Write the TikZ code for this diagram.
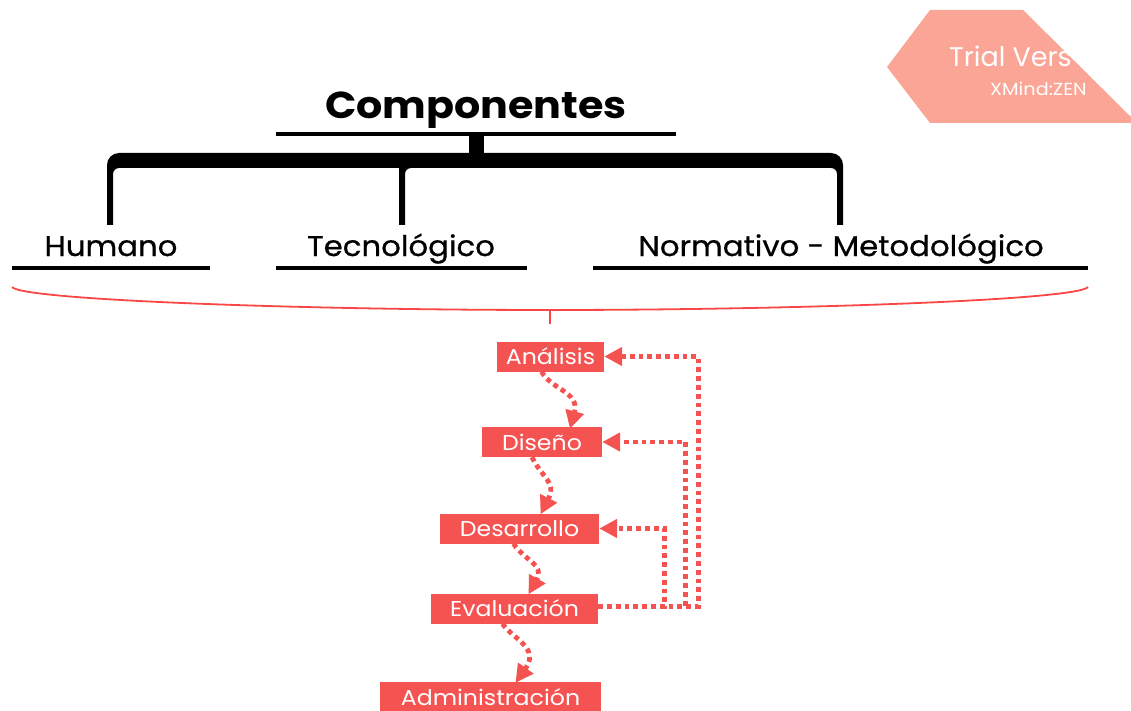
\documentclass[tikz,border=0pt]{standalone}
\usepackage{fontspec}
\setmainfont{Poppins}
\newfontfamily\widefont[FakeStretch=1.1]{Poppins}
\newfontfamily\midfont[FakeStretch=1.08,FakeBold=0.7]{Poppins}
\usetikzlibrary{arrows.meta}
\definecolor{boxred}{RGB}{245,82,82}
\definecolor{bracered}{RGB}{250,70,70}
\definecolor{wmpink}{RGB}{250,165,150}
\tikzset{
  titletxt/.style={inner sep=0pt, font=\widefont\fontsize{37.5}{40}\selectfont\bfseries},
  comptxt/.style={inner sep=0pt, font=\midfont\fontsize{28.5}{32}\selectfont},
  stepbox/.style={fill=boxred, text=white, inner sep=0pt, minimum height=30pt, font=\widefont\fontsize{21.5}{24}\selectfont},
  dotarr/.style={draw=boxred, line width=4.8pt, dash pattern=on 4.8pt off 4pt, -{Triangle[length=18pt,width=18pt]}},
  uline/.style={line width=4pt},
}
\begin{document}
\begin{tikzpicture}[x=1pt,y=-1pt]
\useasboundingbox (0,0) rectangle (1131,711);
% watermark
\fill[wmpink] (887,67) -- (930,10) -- (1023,10) -- (1131,117) -- (1131,123) -- (930,123) -- cycle;
\begin{scope}
\clip (887,67) -- (930,10) -- (1023,10) -- (1131,117) -- (1131,123) -- (930,123) -- cycle;
\node[anchor=base west, inner sep=0pt, text=white, font=\fontsize{27}{30}\selectfont] (trial) at (949,67) {Trial Vers};
\end{scope}
\node[anchor=base west, inner sep=0pt, text=white, font=\widefont\fontsize{17.5}{18}\selectfont] (xmind) at (990,96) {XMind:ZEN};
% title
\node[titletxt, anchor=base] (title) at (476,119) {Componentes};
\draw[uline] (276,134) -- (676,134);
\fill (469,134) rectangle (484,155);
% bracket
\fill (107,225) -- (107,165) arc[start angle=180,end angle=270,radius=12] -- (831,153) arc[start angle=270,end angle=360,radius=12] -- (843,225) -- (837,225) -- (837,174) arc[start angle=0,end angle=-90,radius=6] -- (411,168) arc[start angle=270,end angle=180,radius=6] -- (405,225) -- (399,225) -- (399,168) -- (119,168) arc[start angle=270,end angle=180,radius=6] -- (113,225) -- cycle;
% components
\node[comptxt, anchor=base] (hum) at (111,256) {Humano};
\node[comptxt, anchor=base] (tec) at (401,256) {Tecnológico};
\node[comptxt, anchor=base] (nor) at (841,256) {Normativo - Metodológico};
\draw[uline] (12,268) -- (210,268);
\draw[uline] (276,268) -- (527,268);
\draw[uline] (593,268) -- (1088,268);
% brace
\coordinate (brace) at (550,310);
\draw[bracered, line width=1.8pt] (12,287) .. controls (22,300) and (300,310) .. (brace) .. controls (800,310) and (1078,300) .. (1088,287);
\draw[bracered, line width=1.8pt] (brace) -- ++(0,14);
% steps
\node[stepbox, minimum width=107pt] (ana) at (550.5,356.5) {Análisis};
\node[stepbox, minimum width=120pt] (dis) at (542,442) {Diseño};
\node[stepbox, minimum width=159pt] (des) at (519.5,528.5) {Desarrollo};
\node[stepbox, minimum width=167pt] (eva) at (514.5,608.5) {Evaluación};
\node[stepbox, minimum width=221pt] (adm) at (490.5,697) {Administración};
% forward arrows
\draw[dotarr] ([xshift=-9pt]ana.south) .. controls (552,390) and (580,392) .. ([xshift=28pt,yshift=-2pt]dis.north);
\draw[dotarr] ([xshift=-10pt]dis.south) .. controls (542,478) and (557,482) .. ([xshift=21pt,yshift=-1pt]des.north);
\draw[dotarr] ([xshift=-6pt]des.south) .. controls (524,560) and (545,565) .. ([xshift=14pt,yshift=-1pt]eva.north);
\draw[dotarr] ([xshift=-12pt]eva.south) .. controls (514,640) and (540,648) .. ([xshift=25pt,yshift=-1pt]adm.north);
% return arrows
\draw[dotarr] ([yshift=2pt]eva.east) -- ++(100,0) |- (ana.east);
\draw[dotarr] ([yshift=2pt]eva.east) -- ++(87,0) |- (dis.east);
\draw[dotarr] ([yshift=2pt]eva.east) -- ++(66,0) |- (des.east);
\end{tikzpicture}
\end{document}
